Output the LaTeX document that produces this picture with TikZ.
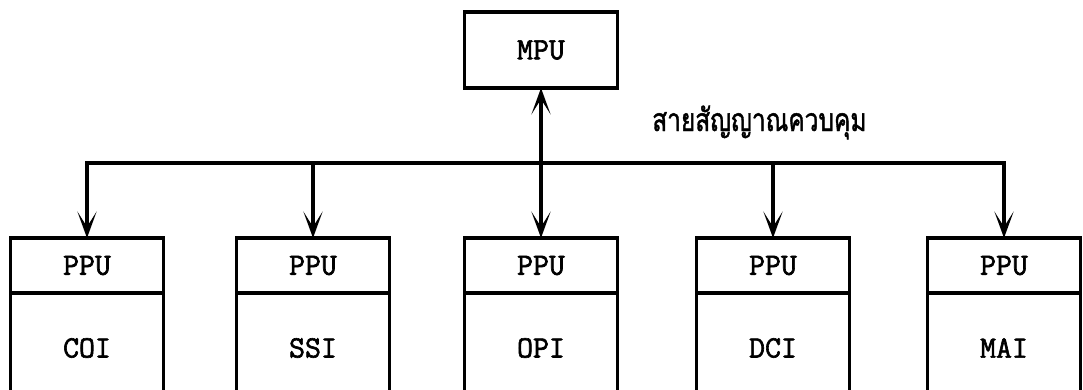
\documentclass[tikz,border=0pt]{standalone}
\usepackage{fontspec}
\newfontfamily\thaifont[Script=Thai, FakeBold=1.5]{Loma}
\newfontfamily\unitfont[FakeBold=2]{Latin Modern Mono}
\usetikzlibrary{arrows.meta}

\tikzset{
  unitbox/.style={draw, line width=2.5pt, minimum width=153*0.025cm, inner sep=0pt, outer sep=0pt,
    font=\unitfont\fontsize{22}{26}\selectfont},
  tip/.tip={Stealth[length=6.6mm, width=4.8mm, inset=3.8mm]},
  sig/.style={line width=2.5pt, line join=miter, -tip},
}

\begin{document}
\begin{tikzpicture}[x=0.025cm, y=-0.025cm]
\clip (0,0) rectangle (1083,389);

% main processor
\node[unitbox, minimum height=76*0.025cm] (mpu) at (541,50) {MPU};

% peripheral units
\foreach \n/\cx/\lbl in {1/87/COI, 2/313/SSI, 3/541/OPI, 4/773/DCI, 5/1004/MAI}{
  \node[unitbox, minimum height=55*0.025cm] (ppu\n) at (\cx,265.5) {PPU};
  \node[unitbox, minimum height=110*0.025cm, anchor=north] (io\n) at (ppu\n.south) {\lbl};
}

\coordinate (bus) at (0,163);

% control lines
\draw[sig, tip-tip] (ppu1.north) -- (ppu1.north |- bus) -- (ppu5.north |- bus) -- (ppu5.north);
\draw[sig] (ppu2.north |- bus) -- (ppu2.north);
\draw[sig] (ppu4.north |- bus) -- (ppu4.north);
\draw[sig, tip-tip] (mpu.south) -- (ppu3.north);

\node[anchor=base west, inner sep=0pt, font=\thaifont\fontsize{17.4}{20}\selectfont] (lbl) at (652,131)
  {\scalebox{1}[1.3]{สายสัญญาณควบคุม}};
\end{tikzpicture}
\end{document}
